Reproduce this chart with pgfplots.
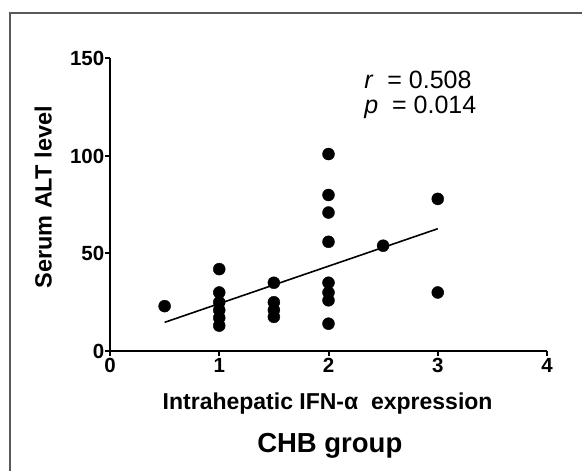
\documentclass[border=0pt]{standalone}
\usepackage{fontspec}
\setmainfont{Liberation Sans}
\usepackage{pgfplots}
\pgfplotsset{compat=1.18}

\pgfplotstableread{
x y
0.5 23
1 42
1 30
1 25
1 21
1 17
1 13
1.5 35
1.5 25
1.5 21
1.5 17.5
2 101
2 80
2 71
2 56
2 35
2 30
2 26
2 14
2.5 54
3 78
3 30
}\alttable

\begin{document}
\begin{tikzpicture}
\useasboundingbox (0pt,0pt) rectangle (582pt,471pt);
% outer frame (cut off on the right and bottom)
\draw[gray!70!black, line width=1.5pt] (10pt,-10pt) -- (10pt,458pt) -- (595pt,458pt);
\begin{axis}[
    at={(110pt,120pt)}, anchor=south west,
    scale only axis, width=437pt, height=292.5pt,
    xmin=0, xmax=4, ymin=0, ymax=150,
    axis x line*=bottom, axis y line*=left,
    axis line style={line width=2.6pt},
    xtick={0,1,2,3,4}, ytick={0,50,100,150},
    tick style={line width=2pt, black},
    major tick length=5pt, tick align=outside,
    /pgf/number format/assume math mode=true,
    ticklabel style={font=\fontsize{20.5}{22}\selectfont\bfseries},
    xticklabel style={inner sep=1pt, yshift=-1pt},
    yticklabel style={inner sep=0pt, xshift=-0.5pt},
    xlabel={Intrahepatic IFN-α\ \ expression},
    ylabel={Serum ALT level},
    xlabel style={font=\fontsize{23}{25}\selectfont\bfseries, at={(axis description cs:0.498,-0.178)}, anchor=center},
    ylabel style={font=\fontsize{23.5}{25}\selectfont\bfseries, at={(axis description cs:-0.153,0.525)}, anchor=center},
    clip=false,
]
\addplot[only marks, mark=*, mark size=6pt, black] table[x=x,y=y] {\alttable};
\addplot[black, line width=1.6pt] coordinates {(0.5,14.7) (3,62.7)};
\node[anchor=west, font=\fontsize{25}{27}\selectfont] at (rel axis cs:0.574,0.926) {\textit{r}\ \ = 0.508};
\node[anchor=west, font=\fontsize{25}{27}\selectfont] at (rel axis cs:0.574,0.834) {\textit{p}\ \ = 0.014};
\node[font=\fontsize{27.5}{29}\selectfont\bfseries] at (rel axis cs:0.503,-0.325) {CHB group};
\end{axis}
\end{tikzpicture}
\end{document}
